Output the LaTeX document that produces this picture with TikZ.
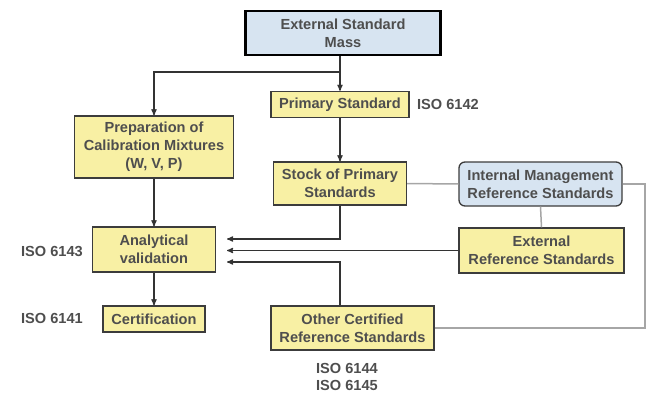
\documentclass[tikz,border=0pt]{standalone}
\usepackage{fontspec}
\setmainfont{Liberation Sans}
\usepackage{tikz}
\usetikzlibrary{arrows}
\definecolor{boxyellow}{HTML}{F8F0A4}
\definecolor{boxblue}{HTML}{D7E4F1}
\definecolor{boxline}{HTML}{3C3C3C}
\definecolor{txtgray}{HTML}{4E4E4E}
\definecolor{linkgray}{HTML}{A6A6A6}
\tikzset{
  stdbox/.style={draw=boxline,line width=1.3pt,fill=boxyellow,align=center,inner sep=0pt},
  mgmtbox/.style={stdbox,fill=boxblue,rounded corners=6pt},
  isolabel/.style={text=txtgray,inner sep=0pt},
  flow/.style={->,draw=black!80,line width=1.2pt},
  link/.style={draw=linkgray,line width=1.5pt}
}

\begin{document}
\begin{tikzpicture}[x=1pt,y=-1pt,>=stealth',font=\fontsize{14.6}{17.8}\selectfont\bfseries,text=txtgray]
\useasboundingbox (0,0) rectangle (655,393);
% boxes
\node[stdbox,fill=boxblue,draw=black,line width=2.6pt,minimum width=195pt,minimum height=44pt] (ext) at (343,33) {External Standard\\Mass};
\node[stdbox,minimum width=138pt,minimum height=26pt] (prim) at (340,104.5) {Primary Standard};
\node[stdbox,minimum width=159pt,minimum height=62pt] (prep) at (154,147) {Preparation of\\Calibration Mixtures\\(W, V, P)};
\node[stdbox,minimum width=133pt,minimum height=43pt] (stock) at (340,183.5) {Stock of Primary\\Standards};
\node[mgmtbox,minimum width=163pt,minimum height=44pt] (intl) at (540.5,184) {Internal Management\\Reference Standards};
\node[stdbox,minimum width=165pt,minimum height=45pt] (extref) at (541.5,250.5) {External\\Reference Standards};
\node[stdbox,minimum width=123pt,minimum height=45pt] (anal) at (154,249.5) {Analytical\\validation};
\node[stdbox,minimum width=102pt,minimum height=26pt] (cert) at (154,319) {Certification};
\node[stdbox,minimum width=163pt,minimum height=44pt] (other) at (352.5,328) {Other Certified\\Reference Standards};
% ISO labels
\node[isolabel] (iso2) at (448,104) {ISO 6142};
\node[isolabel] (iso3) at (52,251) {ISO 6143};
\node[isolabel] (iso1) at (52,318) {ISO 6141};
\node[isolabel] (iso4) at (347,368) {ISO 6144};
\node[isolabel] (iso5) at (347,385) {ISO 6145};
% junctions
\coordinate (trunk) at (340,72);
\coordinate (tipA) at (227,239);
\coordinate (tipB) at (227,250.5);
\coordinate (tipC) at (227,262);
\coordinate (rside) at (645,250);
% connectors
\draw[flow,-] (ext.south -| trunk) -- (trunk);
\draw[flow] (trunk) -- (prim.north);
\draw[flow] (trunk) -| (prep.north);
\draw[flow] (prim.south) -- (stock.north);
\draw[flow] (prep.south) -- (anal.north);
\draw[flow] (anal.south) -- (cert.north);
\draw[flow] (stock.south) |- (tipA);
\draw[flow] (extref.west) -- (tipB);
\draw[flow] (other.north -| stock.south) |- (tipC);
\draw[link] (stock.east) -- (intl.west);
\draw[link] (intl.south) -- (extref.north);
\draw[link] (intl.east) -| (rside) |- (other.east);
\end{tikzpicture}
\end{document}
